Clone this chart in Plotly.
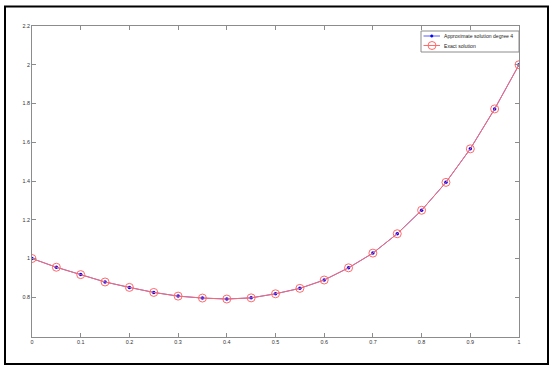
import plotly.graph_objects as go

x_vals = [0, 0.05, 0.1, 0.15, 0.2, 0.25, 0.3, 0.35, 0.4, 0.45, 0.5,
          0.55, 0.6, 0.65, 0.7, 0.75, 0.8, 0.85, 0.9, 0.95, 1.0]
approx_vals = [1.0, 0.955, 0.917, 0.879, 0.851, 0.825, 0.806, 0.796, 0.791, 0.797, 0.818,
               0.846, 0.889, 0.952, 1.028, 1.128, 1.249, 1.393, 1.566, 1.772, 2.0]
exact_vals = [1.0, 0.955, 0.917, 0.879, 0.851, 0.825, 0.806, 0.796, 0.791, 0.797, 0.818,
              0.846, 0.889, 0.952, 1.028, 1.128, 1.249, 1.393, 1.566, 1.772, 2.0]
x_ticks = [0, 0.1, 0.2, 0.3, 0.4, 0.5, 0.6, 0.7, 0.8, 0.9, 1]
x_tick_labels = ["0", "0.1", "0.2", "0.3", "0.4", "0.5", "0.6", "0.7", "0.8", "0.9", "1"]
y_ticks = [0.8, 1.0, 1.2, 1.4, 1.6, 1.8, 2.0, 2.2]
y_tick_labels = ["0.8", "1", "1.2", "1.4", "1.6", "1.8", "2", "2.2"]
series_names = ["Approximate solution degree 4", "Exact solution"]

BLUE_LINE = "#5a5aff"
BLUE_MARK = "#0000ff"
RED = "#ff6a6a"
FONT = "Liberation Sans, Arial"

fig = go.Figure()
fig.add_trace(go.Scatter(
    x=x_vals, y=approx_vals, mode="lines+markers", name=series_names[0],
    line=dict(color=BLUE_LINE, width=1),
    marker=dict(color=BLUE_MARK, size=3.5, symbol="circle"),
))
fig.add_trace(go.Scatter(
    x=x_vals, y=exact_vals, mode="lines+markers", name=series_names[1],
    line=dict(color=RED, width=1),
    marker=dict(color=RED, size=8, symbol="circle-open", line=dict(width=1)),
))

# pixel -> paper helpers
L, T, W_PLOT, H_PLOT = 32, 26, 487, 311
def px(xp):
    return (xp - L) / W_PLOT
def py(yp):
    return (T + H_PLOT - yp) / H_PLOT

shapes = []
# outer frame
shapes.append(dict(type="rect", xref="paper", yref="paper",
                   x0=px(5), x1=px(548), y0=py(364), y1=py(6.5),
                   line=dict(color="black", width=2), fillcolor="rgba(0,0,0,0)",
                   layer="below"))
# legend box
shapes.append(dict(type="rect", xref="paper", yref="paper",
                   x0=px(421), x1=px(519), y0=py(52), y1=py(31),
                   line=dict(color="#8c8c8c", width=1), fillcolor="white", layer="above"))
# legend samples
ly = [36, 45.5]
shapes.append(dict(type="line", xref="paper", yref="paper",
                   x0=px(423.5), x1=px(440), y0=py(ly[0]), y1=py(ly[0]),
                   line=dict(color=BLUE_LINE, width=1), layer="above"))
shapes.append(dict(type="circle", xref="paper", yref="paper",
                   x0=px(430.5), x1=px(433), y0=py(ly[0] + 1.25), y1=py(ly[0] - 1.25),
                   line=dict(color=BLUE_MARK, width=0.5), fillcolor=BLUE_MARK, layer="above"))
shapes.append(dict(type="line", xref="paper", yref="paper",
                   x0=px(423.5), x1=px(440), y0=py(ly[1]), y1=py(ly[1]),
                   line=dict(color=RED, width=1), layer="above"))
shapes.append(dict(type="circle", xref="paper", yref="paper",
                   x0=px(428), x1=px(436), y0=py(ly[1] + 4), y1=py(ly[1] - 4),
                   line=dict(color=RED, width=1), fillcolor="rgba(0,0,0,0)", layer="above"))

annotations = []
for name, yy in zip(series_names, ly):
    annotations.append(dict(xref="paper", yref="paper", x=px(442), y=py(yy),
                            xanchor="left", yanchor="middle", showarrow=False,
                            text=name, font=dict(family=FONT, size=5.1, color="#222222")))

axis_common = dict(
    showgrid=False, zeroline=False, showline=True, linecolor="#8c8c8c", linewidth=1,
    mirror="ticks", ticks="inside", ticklen=4, tickcolor="#8c8c8c", tickwidth=1,
    tickfont=dict(family=FONT, size=5.4, color="#333333"),
)

fig.update_layout(
    width=550, height=371,
    margin=dict(l=L, r=550 - L - W_PLOT, t=T, b=371 - T - H_PLOT, autoexpand=False),
    paper_bgcolor="white", plot_bgcolor="white",
    xaxis=dict(range=[0, 1], tickvals=x_ticks, ticktext=x_tick_labels, **axis_common),
    yaxis=dict(range=[0.595, 2.2], tickvals=y_ticks, ticktext=y_tick_labels, **axis_common),
    showlegend=False,
    shapes=shapes,
    annotations=annotations,
)

fig.write_html("out.html", config={"displayModeBar": False},
               post_script="document.body.style.margin='0';document.body.style.padding='0';")
